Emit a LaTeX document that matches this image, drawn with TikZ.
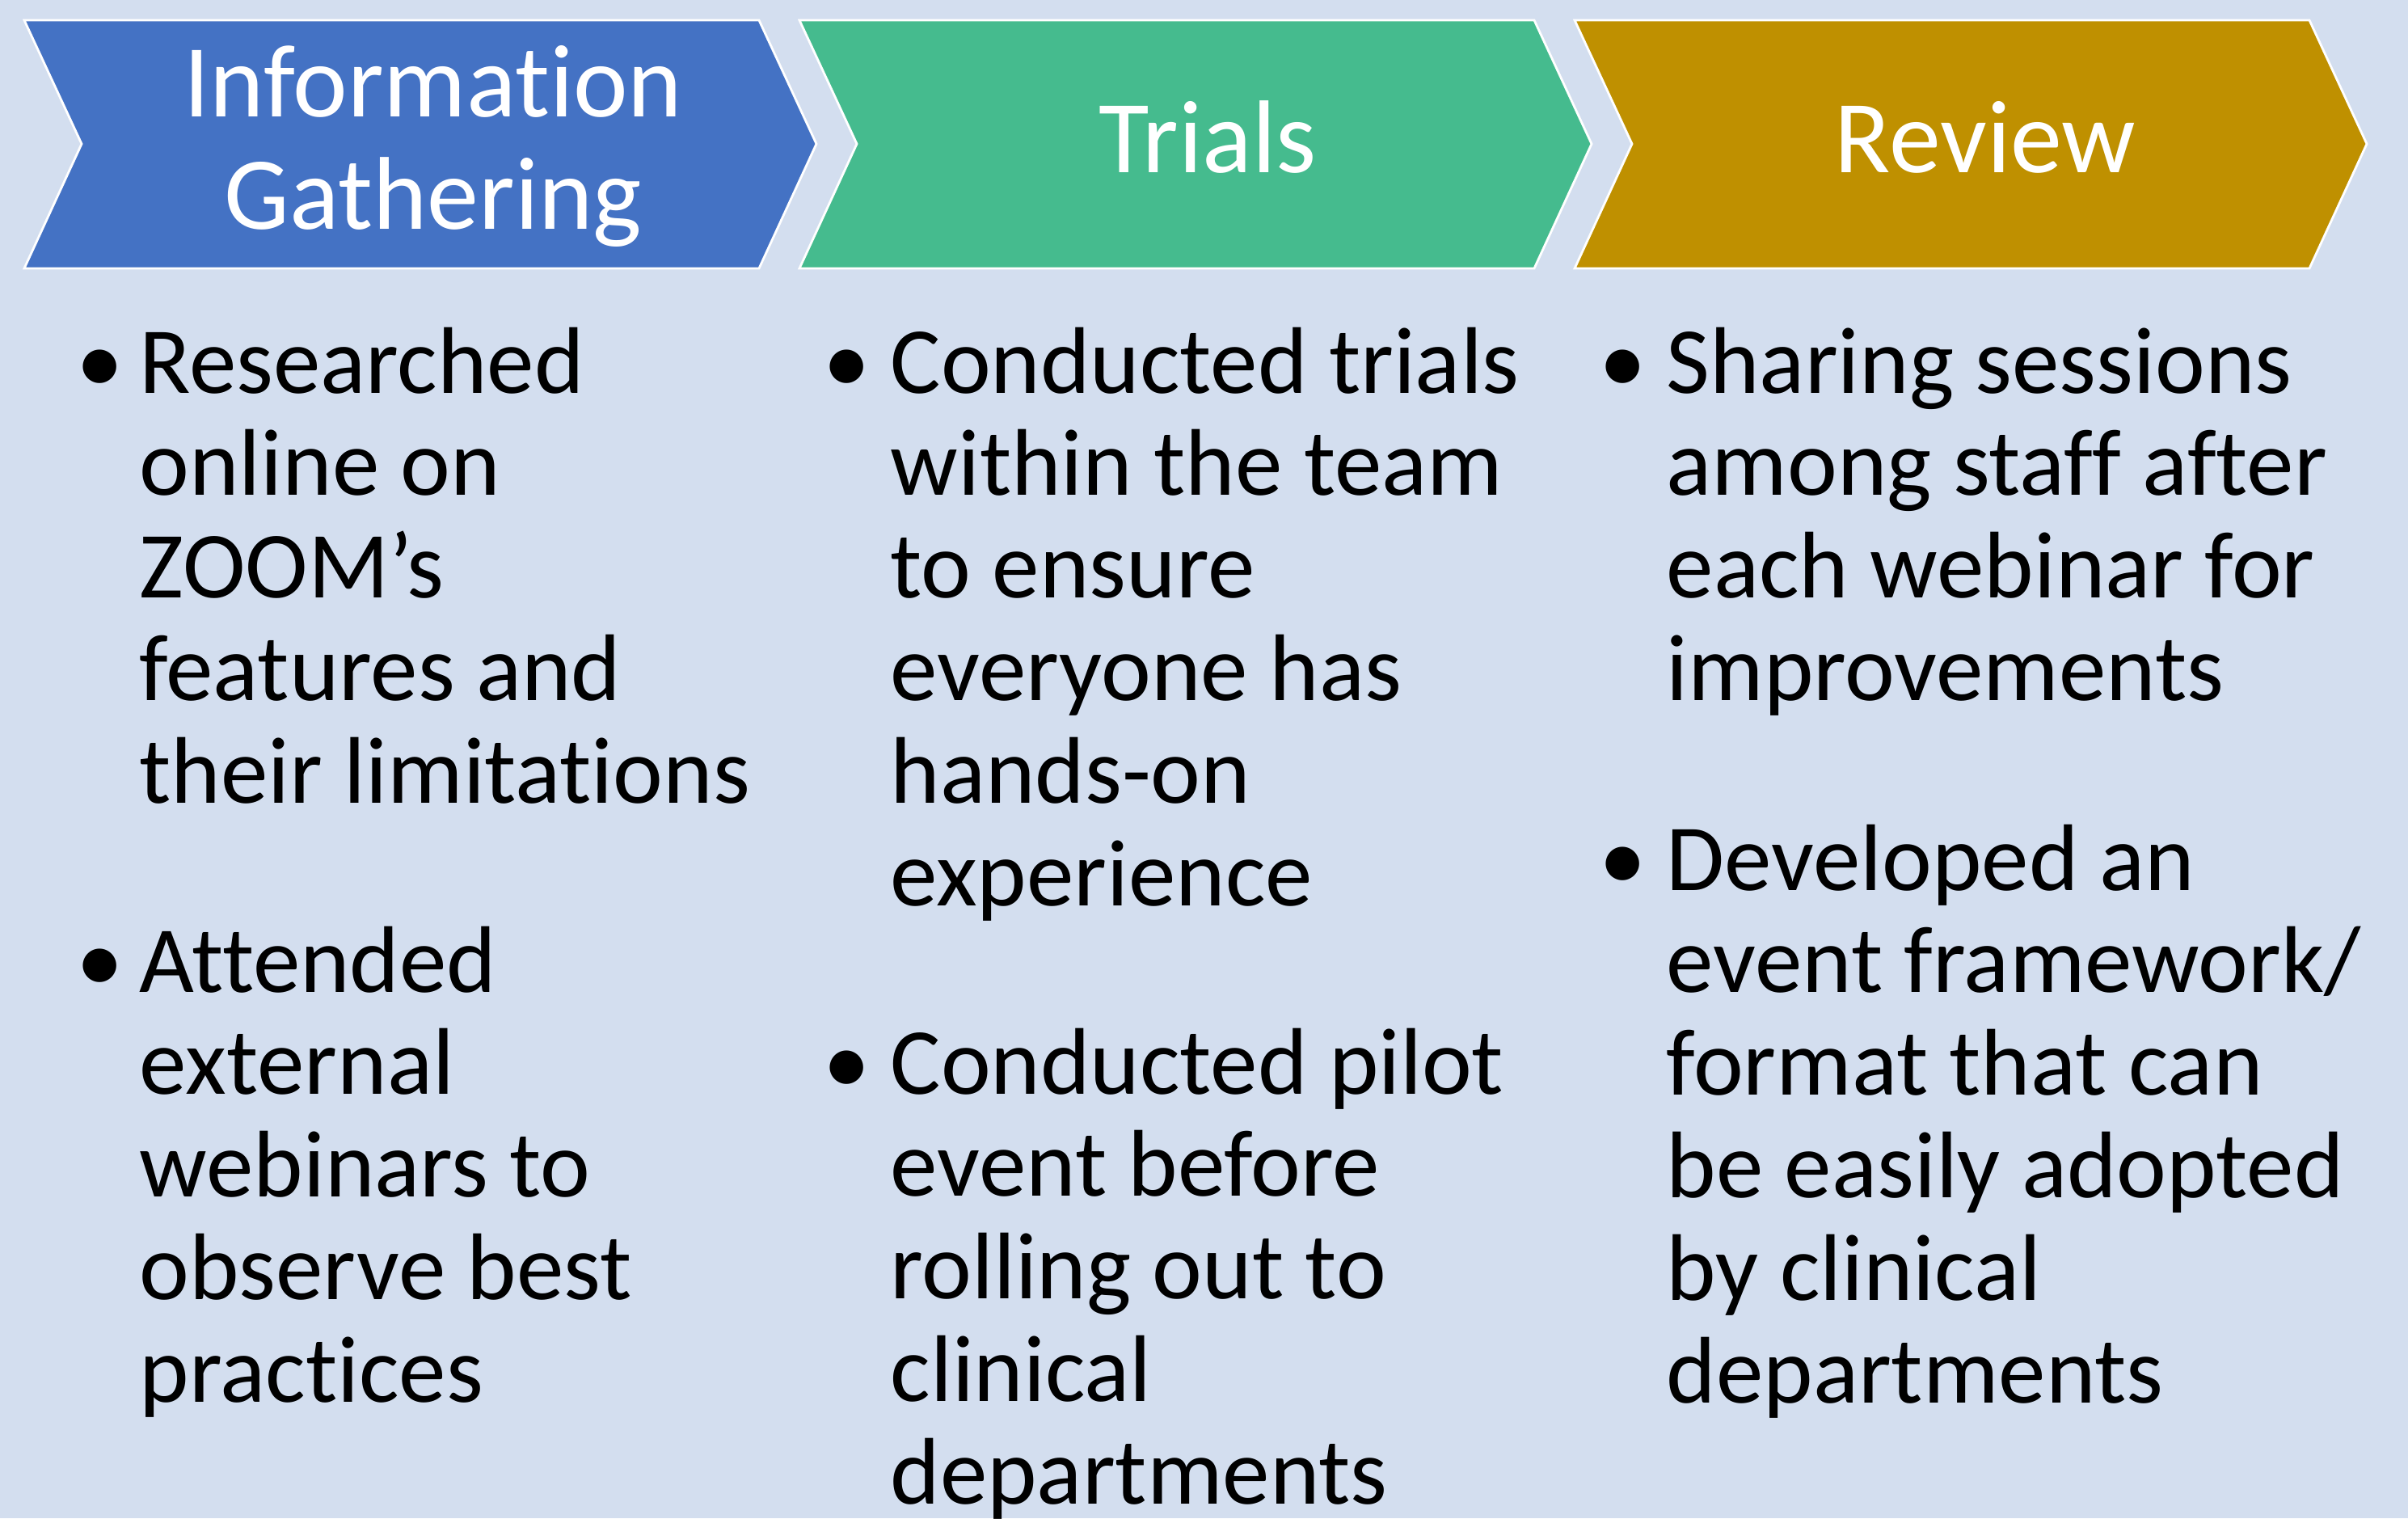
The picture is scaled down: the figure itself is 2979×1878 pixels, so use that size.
\documentclass[tikz,border=0pt]{standalone}
\usepackage{fontspec}
\setmainfont{Carlito}[Ligatures=NoCommon]
\usepackage{tikz}

\definecolor{bgblue}{HTML}{D3DEEF}
\definecolor{infoblue}{HTML}{4472C4}
\definecolor{trialgreen}{HTML}{45BB8E}
\definecolor{reviewgold}{HTML}{BF9000}

\begin{document}
\begin{tikzpicture}[x=0.01cm,y=-0.01cm,
        chevron/.style={draw=white,line width=0.8pt,line join=miter},
        head/.style={text=white,inner sep=0pt,text width=8cm,align=center,anchor=base,font=\fontsize{36.4}{39.6}\selectfont},
        body/.style={inner sep=0pt,text width=9cm,align=left,anchor=base west,font=\fontsize{33.3}{36.1}\selectfont,
            execute at begin node={\spaceskip=0pt\xspaceskip=0pt}},
        dot/.style={inner sep=0pt,anchor=base,font=\fontsize{33.3}{36.1}\selectfont}]
        \fill[bgblue] (0,0) rectangle (2979,1878);
        \useasboundingbox (0,0) rectangle (2979,1878);
        % the three chevrons
        \filldraw[chevron,fill=infoblue] (30,25) -- (939,25) -- (1010,178) -- (939,332) -- (30,332) -- (101,178) -- cycle;
        \filldraw[chevron,fill=trialgreen] (989,25) -- (1898,25) -- (1969,178) -- (1898,332) -- (989,332) -- (1060,178) -- cycle;
        \filldraw[chevron,fill=reviewgold] (1948,25) -- (2857,25) -- (2928,178) -- (2857,332) -- (1948,332) -- (2019,178) -- cycle;
        \node[head] (info) at (536,144) {Information\\Gathering};
        \node[head] (trials) at (1494,213) {Trials};
        \node[head] (review) at (2456,213) {Review};
        % bullet points
        \node[body] (info1) at (172,486) {Researched\\online on\\ZOOM’s\\features and\\their limitations};
        \node[dot] (dot1) at (124,486) {\textbullet};
        \node[body] (info2) at (172,1227) {Attended\\external\\webinars to\\observe best\\practices};
        \node[dot] (dot2) at (124,1227) {\textbullet};
        \node[body] (trial1) at (1101,486) {Conducted trials\\within the team\\to ensure\\everyone has\\hands-on\\experience};
        \node[dot] (dot3) at (1048,486) {\textbullet};
        \node[body] (trial2) at (1101,1353) {Conducted pilot\\event before\\rolling out to\\clinical\\departments};
        \node[dot] (dot4) at (1048,1353) {\textbullet};
        \node[body] (review1) at (2061,486) {Sharing sessions\\among staff after\\each webinar for\\improvements};
        \node[dot] (dot5) at (2008,486) {\textbullet};
        \node[body] (review2) at (2061,1101) {Developed an\\event framework/\\format that can\\be easily adopted\\by clinical\\departments};
        \node[dot] (dot6) at (2008,1101) {\textbullet};
    \end{tikzpicture}
\end{document}
